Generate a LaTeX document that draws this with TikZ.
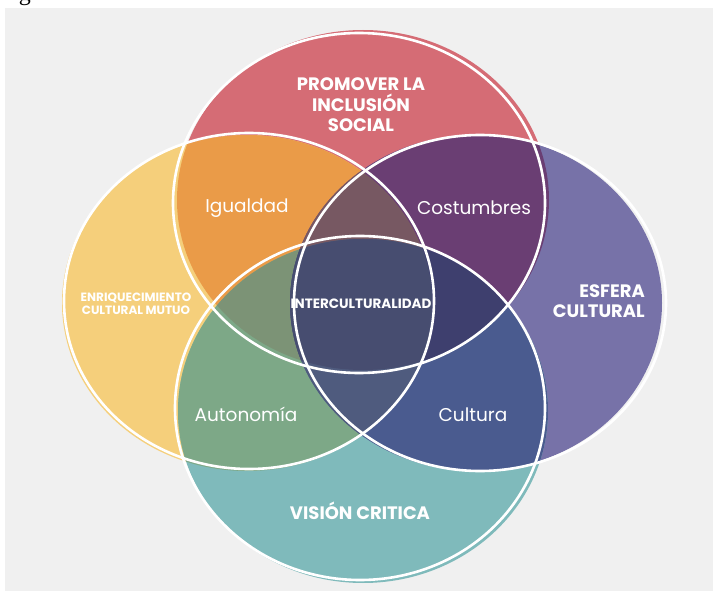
\documentclass[tikz,border=0pt]{standalone}
\usepackage{fontspec}
\setmainfont{Poppins}
\newfontfamily\capfont{Liberation Serif}
\usetikzlibrary{positioning}
\definecolor{bgGray}{HTML}{F0F0F0}
\definecolor{redC}{HTML}{D56C75}
\definecolor{yellowC}{HTML}{F5CF7B}
\definecolor{purpleC}{HTML}{7772A8}
\definecolor{tealC}{HTML}{7FBABB}
\definecolor{orangeC}{HTML}{EA9B48}
\definecolor{plumC}{HTML}{6A3E73}
\definecolor{greenC}{HTML}{7DA887}
\definecolor{blueC}{HTML}{4A5B8F}
\definecolor{mauveC}{HTML}{775862}
\definecolor{sageC}{HTML}{7C9376}
\definecolor{navyC}{HTML}{3E3F6E}
\definecolor{slateC}{HTML}{4F5B7E}
\definecolor{coreC}{HTML}{474D70}
\newcommand\circPromover{(363,200) ellipse [x radius=186, y radius=170]}
\newcommand\circEnriq{(247,303) ellipse [x radius=185, y radius=168]}
\newcommand\circEsfera{(476,303) ellipse [x radius=186, y radius=168]}
\newcommand\circVision{(363,411) ellipse [x radius=185, y radius=172]}
\tikzset{
  rim/.style={draw=white, line width=2.6pt},
  bigLabel/.style={text=white, font=\bfseries\fontsize{18}{20.5}\selectfont, align=center, inner sep=0pt},
  smallLabel/.style={text=white, font=\bfseries\fontsize{12}{13.5}\selectfont, align=center, inner sep=0pt},
  areaLabel/.style={text=white, font=\fontsize{18.5}{20}\selectfont, inner sep=0pt}
}
\begin{document}
\begin{tikzpicture}[x=1pt, y=-1pt]
\useasboundingbox (0,0) rectangle (713,591);
\fill[white] (0,0) rectangle (713,591);
\fill[bgGray] (5,8) rectangle (713,591);
% cut-off caption letter at the top
\begin{scope}
\clip (0,0) rectangle (60,6);
\node[anchor=base, inner sep=0pt, font=\capfont\fontsize{24}{24}\selectfont] (capG) at (25,1) {g};
\end{scope}
% single sets
\fill[redC] \circPromover;
\fill[yellowC] \circEnriq;
\fill[purpleC] \circEsfera;
\fill[tealC] \circVision;
% pairs
\begin{scope}\clip \circPromover; \fill[orangeC] \circEnriq; \end{scope}
\begin{scope}\clip \circPromover; \fill[plumC] \circEsfera; \end{scope}
\begin{scope}\clip \circVision; \fill[greenC] \circEnriq; \end{scope}
\begin{scope}\clip \circVision; \fill[blueC] \circEsfera; \end{scope}
% triples
\begin{scope}\clip \circPromover; \clip \circEnriq; \fill[mauveC] \circEsfera; \end{scope}
\begin{scope}\clip \circPromover; \clip \circEnriq; \fill[sageC] \circVision; \end{scope}
\begin{scope}\clip \circPromover; \clip \circEsfera; \fill[navyC] \circVision; \end{scope}
\begin{scope}\clip \circVision; \clip \circEnriq; \fill[slateC] \circEsfera; \end{scope}
% all four
\begin{scope}\clip \circPromover; \clip \circEnriq; \clip \circEsfera; \fill[coreC] \circVision; \end{scope}
% white rims, a little off the fills
\draw[rim, shift={(-4,3)}] \circPromover;
\draw[rim, shift={(2,-2)}] \circEnriq;
\draw[rim, shift={(4,0)}] \circEsfera;
\draw[rim, shift={(-3,-3)}] \circVision;
% labels
\node[bigLabel] (promover) at (361,105) {PROMOVER LA\\INCLUSIÓN\\SOCIAL};
\node[smallLabel] (enriq) at (136,304) {ENRIQUECIMIENTO\\CULTURAL MUTUO};
\node[bigLabel, align=right, anchor=east] (esfera) at (645,301) {ESFERA\\CULTURAL};
\node[bigLabel] (vision) at (360,511) {VISIÓN CRITICA};
\node[smallLabel, font=\bfseries\fontsize{13.5}{15}\selectfont] (core) at (361,304) {INTERCULTURALIDAD};
\node[areaLabel] (igualdad) at (247,208) {Igualdad};
\node[areaLabel] (costumbres) at (474,208) {Costumbres};
\node[areaLabel] (autonomia) at (246,414) {Autonomía};
\node[areaLabel] (cultura) at (473,415) {Cultura};
\end{tikzpicture}
\end{document}
